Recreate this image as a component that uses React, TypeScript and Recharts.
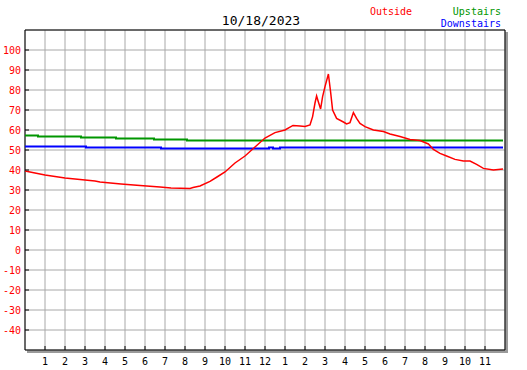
import React from "react";
import { LineChart, Line, XAxis, YAxis, CartesianGrid, ReferenceArea } from "recharts";

const title = "10/18/2023";
const seriesNames = ["Outside", "Upstairs", "Downstairs"];
const seriesColors = ["#ff0000", "#009600", "#0000ff"];

const hourTicks = [1, 2, 3, 4, 5, 6, 7, 8, 9, 10, 11, 12, 13, 14, 15, 16, 17, 18, 19, 20, 21, 22, 23];
const hourLabels = ["1", "2", "3", "4", "5", "6", "7", "8", "9", "10", "11", "12", "1", "2", "3", "4", "5", "6", "7", "8", "9", "10", "11"];
const tempTicks = [-40, -30, -20, -10, 0, 10, 20, 30, 40, 50, 60, 70, 80, 90, 100];

const outsideHours = [0, 0.5, 1, 1.5, 2, 2.5, 3, 3.5, 3.75, 4.8, 5.75, 6.75, 7.3, 8.25, 8.4, 8.75, 9.25, 9.6, 10, 10.5, 11, 11.5, 12, 12.5, 13, 13.4, 13.75, 14, 14.25, 14.38, 14.5, 14.58, 14.67, 14.78, 14.88, 15, 15.17, 15.28, 15.38, 15.58, 15.92, 16.08, 16.25, 16.42, 16.58, 16.75, 17, 17.42, 17.92, 18.25, 18.75, 19.25, 19.75, 20.17, 20.42, 20.75, 21.08, 21.5, 21.92, 22.25, 22.58, 22.92, 23.42, 23.9];
const outsideTemps = [39.5, 38.5, 37.5, 36.8, 36, 35.5, 35, 34.5, 34, 33, 32.3, 31.5, 31, 30.8, 31.2, 32, 34.3, 36.5, 39, 43.5, 47, 51.5, 56, 58.7, 60, 62.3, 62, 61.8, 62.5, 66.7, 73.5, 77, 74, 70.5, 76.7, 81.7, 88, 79, 70, 65.8, 64, 63, 63.7, 68.7, 65.8, 63.3, 61.7, 60, 59.2, 58, 56.7, 55.3, 54.7, 53, 50.3, 48.3, 47, 45.3, 44.5, 44.5, 42.8, 40.8, 40, 40.5];

const upstairsHours = [0, 0.65, 2.8, 4.55, 6.45, 8.1, 23.9];
const upstairsTemps = [57.3, 56.8, 56.3, 55.8, 55.3, 54.8, 54.8];

const downstairsHours = [0, 3.05, 6.8, 12.2, 12.4, 12.75, 23.9];
const downstairsTemps = [51.8, 51.3, 50.8, 51.2, 50.8, 51.3, 51.3];

const toRows = (hours: number[], temps: number[]) => hours.map((t, i) => ({ t, v: temps[i] }));
const outside = toRows(outsideHours, outsideTemps);
const upstairs = toRows(upstairsHours, upstairsTemps);
const downstairs = toRows(downstairsHours, downstairsTemps);

const FONT = "'DejaVu Sans Mono', 'Liberation Mono', monospace";

export default function App() {
  return (
    <div style={{ position: "absolute", left: 0, top: 0, width: 527, height: 370, background: "#fff" }}>
      <div style={{ position: "absolute", left: 27, top: 32, width: 481, height: 321, background: "#9a9a9a" }} />
      <div style={{ position: "absolute", left: 0, top: 0 }}>
        <LineChart width={527} height={370} margin={{ top: 30, right: 22, bottom: 0, left: 0 }}>
          <CartesianGrid stroke="#a8a8a8" fill="#ffffff" strokeDasharray="" />
          <XAxis
            dataKey="t"
            type="number"
            domain={[0, 24]}
            ticks={hourTicks}
            interval={0}
            height={20}
            axisLine={false}
            stroke="#000"
            tickSize={-4}
            tickMargin={12}
            tickFormatter={(h: number) => hourLabels[hourTicks.indexOf(h)]}
            tick={{ fill: "#000", fontFamily: FONT, fontSize: 10 }}
            allowDataOverflow
          />
          <YAxis
            type="number"
            domain={[-50, 110]}
            ticks={tempTicks}
            interval={0}
            width={25}
            axisLine={false}
            stroke="#000"
            tickSize={-4}
            tickMargin={8}
            tick={{ fill: "#ff0000", fontFamily: FONT, fontSize: 10 }}
            allowDataOverflow
          />
          <ReferenceArea x1={0} x2={24} y1={-50} y2={110} fill="none" stroke="#000" strokeWidth={1} fillOpacity={0} />
          <Line data={upstairs} dataKey="v" type="stepAfter" stroke={seriesColors[1]} strokeWidth={2} dot={false} isAnimationActive={false} />
          <Line data={downstairs} dataKey="v" type="stepAfter" stroke={seriesColors[2]} strokeWidth={2} dot={false} isAnimationActive={false} />
          <Line data={outside} dataKey="v" type="linear" stroke={seriesColors[0]} strokeWidth={1.5} dot={false} isAnimationActive={false} />
        </LineChart>
      </div>
      <svg width={527} height={370} style={{ position: "absolute", left: 0, top: 0, pointerEvents: "none" }}>
        <text x={261} y={25} textAnchor="middle" fontFamily={FONT} fontSize={13} fill="#000">{title}</text>
        <text x={370} y={15} fontFamily={FONT} fontSize={10} fill={seriesColors[0]}>{seriesNames[0]}</text>
        <text x={501} y={15} textAnchor="end" fontFamily={FONT} fontSize={10} fill={seriesColors[1]}>{seriesNames[1]}</text>
        <text x={501} y={27} textAnchor="end" fontFamily={FONT} fontSize={10} fill={seriesColors[2]}>{seriesNames[2]}</text>
      </svg>
    </div>
  );
}
